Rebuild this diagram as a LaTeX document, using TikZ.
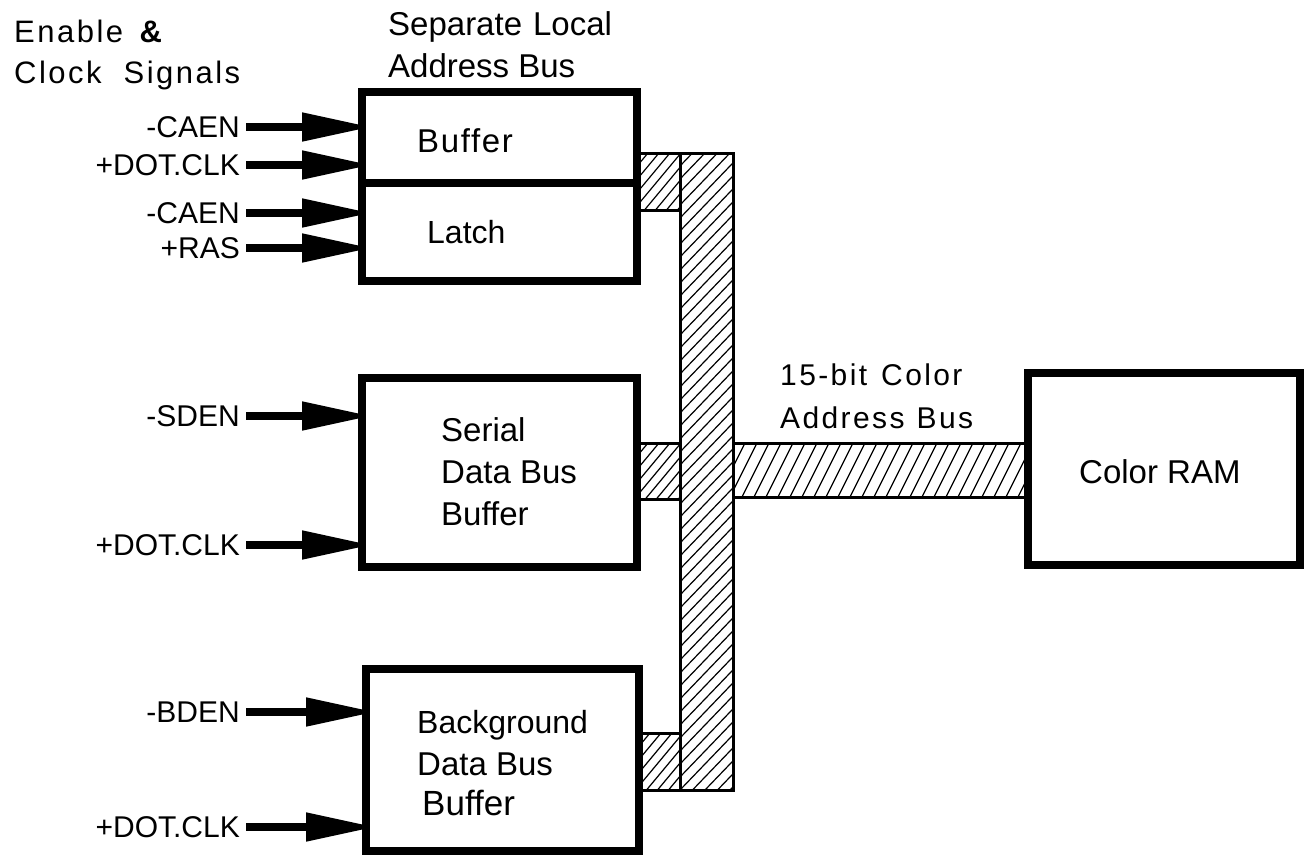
\documentclass[tikz,border=0pt]{standalone}
\usepackage{fontspec}
\setmainfont{Liberation Sans}
\newfontfamily\spacedfont[LetterSpace=8]{Liberation Sans}
\newfontfamily\lightspaced[LetterSpace=5]{Liberation Sans}
\usetikzlibrary{arrows.meta}
\newcommand\hatchrect[6]{%
  \begin{scope}
    \clip (#1,#2) rectangle (#3,#4);
    \pgfmathsetmacro\hstart{#1-(#4-#2)/#5}
    \pgfmathsetmacro\hnext{\hstart+#6}
    \foreach \hx in {\hstart,\hnext,...,#3}
      \draw[hatchline] (\hx,#4) -- ++({(#4-#2)/#5},{-(#4-#2)});
  \end{scope}}
\begin{document}
\begin{tikzpicture}[x=1pt,y=-1pt,
  box/.style={draw, line width=7.5pt, fill=white, inner sep=0pt},
  sig/.style={line width=8pt, -{Triangle[length=70pt,width=27pt]}},
  sigtext/.style={anchor=east, inner xsep=6pt, inner ysep=0pt, font=\fontsize{30pt}{36pt}\selectfont},
  txt/.style={anchor=base west, inner sep=0pt, font=\fontsize{33pt}{40pt}\selectfont},
  bustxt/.style={anchor=base west, inner sep=0pt, font=\fontsize{30pt}{36pt}\spacedfont},
  hatchline/.style={line width=1.2pt},
  busline/.style={line width=3pt}]
\useasboundingbox (0,0) rectangle (1307,857);

% signal arrows
\foreach \nm/\txt/\yy/\tip in {s1/-CAEN/127/372, s2/+DOT.CLK/165/372, s3/-CAEN/213/372, s4/+RAS/248/372, s5/-SDEN/416/372, s6/+DOT.CLK/545/372, s7/-BDEN/712/376, s8/+DOT.CLK/827/376}{
  \node[sigtext] (\nm) at (246,\yy) {\txt};
  \coordinate (\nm t) at (\tip,\yy);
  \draw[sig] (\nm) -- (\nm t);
}

% buses
\hatchrect{680}{153}{733}{790}{1.04}{12.5}
\hatchrect{733}{443}{1028}{497}{2}{12}
\hatchrect{637}{153}{680}{210}{1.2}{11}
\hatchrect{637}{443}{680}{499}{1.2}{11}
\hatchrect{639}{733}{680}{790}{1.2}{11}
\draw[busline] (680,153) rectangle (733,790);
\draw[busline] (637,153) rectangle (680,210);
\draw[busline] (637,443) rectangle (680,499);
\draw[busline] (733,443) rectangle (1028,497);
\draw[busline] (639,733) rectangle (680,790);

% boxes
\node[box, minimum width=275pt, minimum height=91pt] (buf) at (499.5,137.5) {};
\node[box, minimum width=275pt, minimum height=98pt] (latch) at (499.5,232) {};
\node[box, minimum width=275pt, minimum height=189pt] (serial) at (499.5,472.5) {};
\node[box, minimum width=273pt, minimum height=182pt] (bg) at (502.5,760) {};
\node[box, minimum width=272pt, minimum height=192pt] (ram) at (1164,469) {};

% texts
\node[txt, font=\fontsize{31pt}{36pt}\spacedfont] (h1) at (14,42) {Enable\hspace{14pt}\textbf{\&}};
\node[txt, font=\fontsize{31pt}{36pt}\spacedfont] (h2) at (14,83) {Clock\hspace{22pt}Signals};
\node[txt] (h3) at (388,35) {Separate\hspace{11pt}Local};
\node[txt] (h4) at (388,77) {Address Bus};
\node[txt, font=\fontsize{33pt}{40pt}\lightspaced] (tbuf) at (417,152) {Buffer};
\node[txt, font=\fontsize{32pt}{40pt}\selectfont] (tlatch) at (427,243) {Latch};
\node[txt] (ts1) at (441,441) {Serial};
\node[txt] (ts2) at (441,483) {Data Bus};
\node[txt] (ts3) at (441,525) {Buffer};
\node[txt, font=\fontsize{32pt}{40pt}\selectfont] (tb1) at (417,733) {Background};
\node[txt] (tb2) at (417,775) {Data Bus};
\node[txt, font=\fontsize{35pt}{40pt}\selectfont] (tb3) at (422,815) {Buffer};
\node[bustxt] (tc1) at (780,385) {15-bit\hspace{14pt}Color};
\node[bustxt] (tc2) at (780,428) {Address\hspace{12pt}Bus};
\node[txt] (tram) at (1079,483) {Color RAM};
\end{tikzpicture}
\end{document}
